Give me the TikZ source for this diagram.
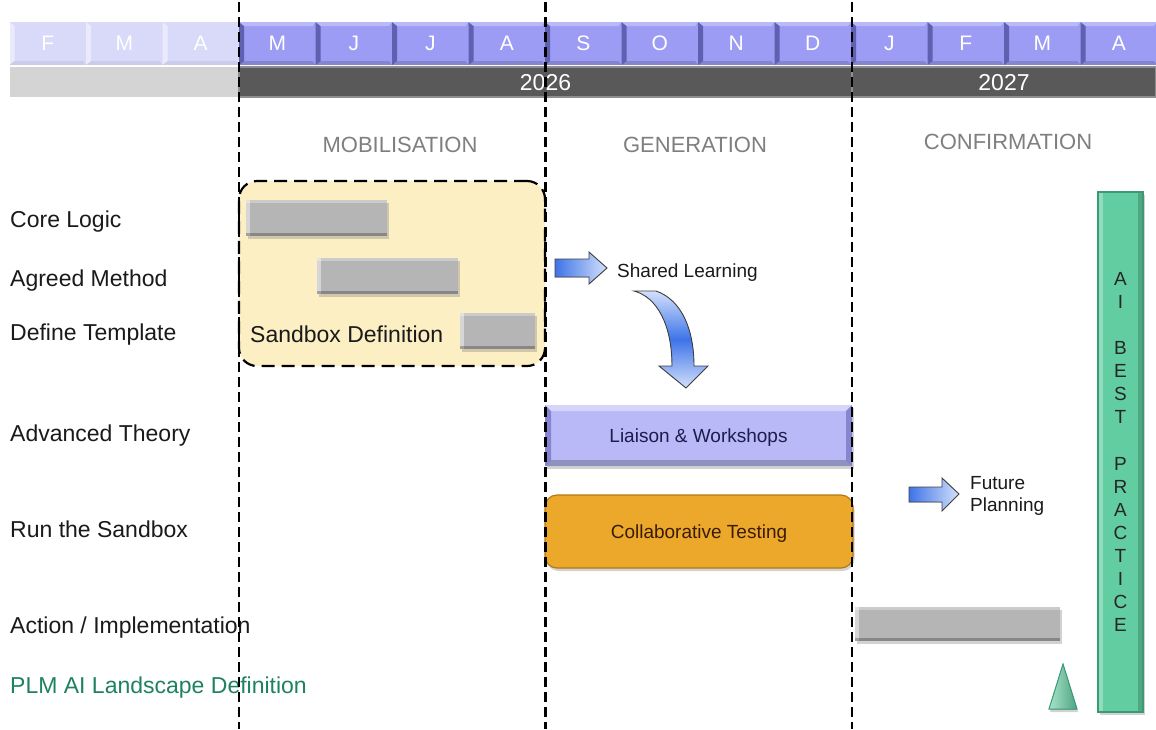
\documentclass[tikz,border=0pt]{standalone}
\usepackage{fontspec}
\setmainfont{Liberation Sans}
\usetikzlibrary{shadows}

\definecolor{monthpast}{HTML}{D9D9F9}
\definecolor{monthnow}{HTML}{9C9CF4}
\definecolor{monthedge}{HTML}{6060B0}
\definecolor{yeardark}{HTML}{595959}
\definecolor{yearedge}{HTML}{8E8E8E}
\definecolor{yearpast}{HTML}{D4D4D4}
\definecolor{phasegray}{HTML}{7F7F7F}
\definecolor{labelink}{HTML}{1A1A1A}
\definecolor{plmgreen}{HTML}{1E8262}
\definecolor{sandfill}{HTML}{FDEFC4}
\definecolor{barfill}{HTML}{B5B5B5}
\definecolor{lilac}{HTML}{B9B9F8}
\definecolor{lilacedge}{HTML}{8585D2}
\definecolor{navyink}{HTML}{1C1C4E}
\definecolor{amber}{HTML}{EBA82B}
\definecolor{amberedge}{HTML}{B27A12}
\definecolor{brownink}{HTML}{3A1C06}
\definecolor{mint}{HTML}{62CDA0}
\definecolor{mintedge}{HTML}{3A9A76}
\definecolor{arrowblue}{HTML}{3E74E8}
\definecolor{arrowpale}{HTML}{D3E0FB}

\def\pb{path picture bounding box}

\tikzset{
  monthtile/.style={minimum width=76.5pt, minimum height=43pt, inner sep=0pt, outer sep=0pt,
    text=white, font=\fontsize{21}{21}\selectfont},
  monthnowtile/.style={monthtile, fill=monthnow,
    path picture={
      \fill[monthedge] (\pb.north west) -- ([xshift=5pt,yshift=-4pt]\pb.north west)
        -- ([xshift=5pt,yshift=4pt]\pb.south west) -- (\pb.south west) -- cycle;
      \fill[white,opacity=.3] (\pb.north west) -- (\pb.north east)
        -- ([xshift=-3pt,yshift=-4pt]\pb.north east) -- ([xshift=5pt,yshift=-4pt]\pb.north west) -- cycle;
      \fill[black,opacity=.15] (\pb.south west) -- ([xshift=5pt,yshift=4pt]\pb.south west)
        -- ([xshift=-3pt,yshift=4pt]\pb.south east) -- (\pb.south east) -- cycle;}},
  monthpasttile/.style={monthtile, fill=monthpast,
    path picture={
      \fill[white,opacity=.45] (\pb.north west) -- ([xshift=5pt,yshift=-4pt]\pb.north west)
        -- ([xshift=5pt,yshift=4pt]\pb.south west) -- (\pb.south west) -- cycle;
      \fill[black,opacity=.06] (\pb.south west) -- ([xshift=5pt,yshift=4pt]\pb.south west)
        -- ([xshift=-3pt,yshift=4pt]\pb.south east) -- (\pb.south east) -- cycle;}},
  yearbar/.style={fill=yeardark, draw=yearedge, line width=1.5pt, minimum height=30pt,
    inner sep=0pt, outer sep=0pt, text=white, text depth=0pt, font=\fontsize{23}{23}\selectfont},
  phase/.style={text=phasegray, font=\fontsize{22}{22}\selectfont, inner sep=0pt},
  rowlabel/.style={anchor=west, text=labelink, font=\fontsize{23}{23}\selectfont, inner sep=0pt},
  sandbox/.style={fill=sandfill, draw=black, line width=2.2pt, dash pattern=on 13pt off 7pt,
    rounded corners=18pt, inner sep=0pt},
  graybar/.style={fill=barfill, minimum height=36pt, inner sep=0pt,
    drop shadow={opacity=.35, shadow xshift=1.5pt, shadow yshift=-2.5pt},
    path picture={
      \fill[white,opacity=.45] (\pb.north west) rectangle ([xshift=4pt]\pb.south west);
      \fill[white,opacity=.3] (\pb.north west) rectangle ([yshift=-3pt]\pb.north east);
      \fill[black,opacity=.25] (\pb.south west) rectangle ([yshift=3pt]\pb.south east);}},
  tasktext/.style={font=\fontsize{19}{19}\selectfont, text depth=0pt},
  liaisonbar/.style={fill=lilac, minimum width=307pt, minimum height=61pt, inner sep=0pt,
    text=navyink, tasktext,
    drop shadow={opacity=.35, shadow xshift=1.5pt, shadow yshift=-3pt},
    path picture={
      \fill[white,opacity=.4] (\pb.north west) -- (\pb.north east)
        -- ([xshift=-6pt,yshift=-6pt]\pb.north east) -- ([xshift=6pt,yshift=-6pt]\pb.north west) -- cycle;
      \fill[lilacedge] (\pb.north west) -- ([xshift=6pt,yshift=-6pt]\pb.north west)
        -- ([xshift=6pt,yshift=6pt]\pb.south west) -- (\pb.south west) -- cycle;
      \fill[lilacedge] (\pb.north east) -- ([xshift=-6pt,yshift=-6pt]\pb.north east)
        -- ([xshift=-6pt,yshift=6pt]\pb.south east) -- (\pb.south east) -- cycle;
      \fill[black,opacity=.22] (\pb.south west) -- ([xshift=6pt,yshift=6pt]\pb.south west)
        -- ([xshift=-6pt,yshift=6pt]\pb.south east) -- (\pb.south east) -- cycle;}},
  collabbar/.style={fill=amber, draw=amberedge, line width=1.2pt, rounded corners=12pt,
    minimum width=308pt, minimum height=73pt, inner sep=0pt, text=brownink, tasktext,
    drop shadow={opacity=.35, shadow xshift=1.5pt, shadow yshift=-3pt}},
  blockarrow/.style={left color=arrowblue, right color=arrowpale, draw=black!75, line width=0.9pt},
  bendarrow/.style={top color=arrowpale, bottom color=arrowpale, middle color=arrowblue,
    draw=black!75, line width=0.9pt},
  notetext/.style={anchor=west, text=labelink, font=\fontsize{19}{22}\selectfont, inner sep=0pt,
    align=left},
  bestbar/.style={fill=mint, draw=mintedge, line width=1.2pt, minimum width=45pt,
    minimum height=520pt, inner sep=0pt, align=center, text=black!85,
    font=\fontsize{19}{23.1}\selectfont,
    drop shadow={opacity=.35, shadow xshift=1.5pt, shadow yshift=-3pt},
    path picture={
      \fill[white,opacity=.3] (\pb.north west) rectangle ([xshift=5pt]\pb.south west);
      \fill[black,opacity=.18] (\pb.north east) rectangle ([xshift=-5pt]\pb.south east);}},
  milestone/.style={left color=mint!55!white, right color=mint!80!black, draw=mintedge, line width=1pt,
    drop shadow={opacity=.35, shadow xshift=1pt, shadow yshift=-3pt}},
  phaseline/.style={black, line width=2.6pt, dash pattern=on 10pt off 5pt},
}

\begin{document}
\begin{tikzpicture}[x=1pt,y=-1pt]
\useasboundingbox (0,0) rectangle (1156,729);
\fill[white] (0,0) rectangle (1156,729);

% month header
\foreach \i/\m in {0/F,1/M,2/A}
  \node[monthpasttile] (mp\i) at ({9.5+76.5*\i+38.25},43.5) {\m};
\foreach \i/\m in {3/M,4/J,5/J,6/A,7/S,8/O,9/N,10/D,11/J,12/F,13/M,14/A}
  \node[monthnowtile] (mn\i) at ({9.5+76.5*\i+38.25},43.5) {\m};

% year header
\node[fill=yearpast, minimum width=229.5pt, minimum height=30pt, inner sep=0pt] (ypast) at (124.25,82) {};
\node[yearbar, minimum width=613pt] (y2026) at (545.5,82) {2026};
\node[yearbar, minimum width=303pt] (y2027) at (1004,82) {2027};

% phase titles
\node[phase] (mob) at (400,145) {MOBILISATION};
\node[phase] (gen) at (695,145) {GENERATION};
\node[phase] (conf) at (1008,142) {CONFIRMATION};

% row labels
\node[rowlabel] (rcore) at (10,222) {Core Logic};
\node[rowlabel] (ragreed) at (10,281) {Agreed Method};
\node[rowlabel] (rtempl) at (10,335) {Define Template};
\node[rowlabel] (radv) at (10,436) {Advanced Theory};
\node[rowlabel] (rrun) at (10,529) {Run the Sandbox};
\node[rowlabel] (ract) at (10,628) {Action / Implementation};
\node[rowlabel, text=plmgreen] (rplm) at (10,688) {PLM AI Landscape Definition};

% mobilisation: sandbox definition
\node[sandbox, minimum width=306pt, minimum height=185pt] (sbox) at (392,273.5) {};
\node[graybar, minimum width=141pt] (bcore) at (316.5,218) {};
\node[graybar, minimum width=141pt] (bagreed) at (387.5,276) {};
\node[graybar, minimum width=75pt] (btempl) at (497.5,331) {};
\node[rowlabel] (sdef) at (250,334) {Sandbox Definition};

% generation
\fill[blockarrow] (555,259) -- (589,259) -- (589,252) -- (607,268) -- (589,284) -- (589,277) -- (555,277) -- cycle;
\node[notetext] (shared) at (617,272.5) {Shared Learning};
\fill[bendarrow] (634,291) -- (656,291) .. controls (682,300) and (694,330) .. (694,366)
  -- (708,366) -- (686,388) -- (659,366) -- (672,366)
  .. controls (672,325) and (657,297) .. (634,291) -- cycle;
\node[liaisonbar] (liaison) at (698.5,435.5) {Liaison \& Workshops};
\node[collabbar] (collab) at (699,531.5) {Collaborative Testing};

% confirmation
\fill[blockarrow] (909,487) -- (942,487) -- (942,478) -- (959,494) -- (942,511) -- (942,502) -- (909,502) -- cycle;
\node[notetext] (future) at (970,496) {Future\\Planning};
\node[graybar, minimum width=205pt, minimum height=34pt] (bact) at (957.5,624) {};
\fill[milestone] (1063,664) -- (1077,709) -- (1049,709) -- cycle;
\node[bestbar] (best) at (1120.5,452) {A\\I\\\mbox{}\\B\\E\\S\\T\\\mbox{}\\P\\R\\A\\C\\T\\I\\C\\E};

% phase boundaries
\foreach \k/\x in {1/239,2/545.5,3/852} {
  \coordinate (pt\k) at (\x,2);
  \coordinate (pb\k) at (\x,729);
  \draw[phaseline] (pt\k) -- (pb\k);
}
\end{tikzpicture}
\end{document}
